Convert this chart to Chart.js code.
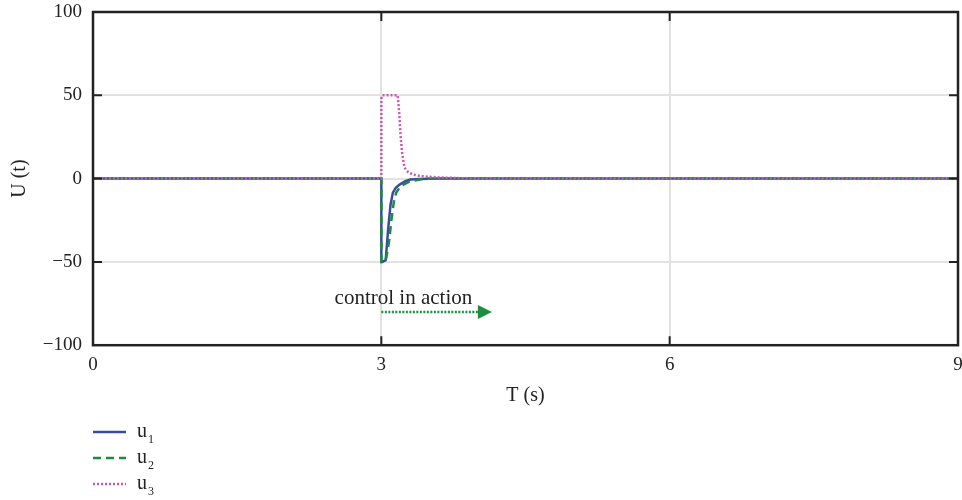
<!DOCTYPE html>
<html>
<head>
<meta charset="utf-8">
<script src="https://cdn.jsdelivr.net/npm/chart.js@4.4.1/dist/chart.umd.min.js"></script>
<style>
  html, body { margin: 0; padding: 0; background: #fff; }
  canvas { display: block; }
</style>
</head>
<body>
<canvas id="uChart" width="962" height="500"></canvas>
<script>
// datos
const u1T = [0, 3.0, 3.0, 3.01, 3.045, 3.07, 3.095, 3.12, 3.15, 3.19, 3.25, 3.30, 3.40, 3.60, 9];
const u1V = [0, 0, -50, -50, -49, -31, -16, -8.4, -5.5, -3.6, -1.6, -0.6, -0.2, 0, 0];

const u2T = [0, 3.0, 3.0, 3.025, 3.05, 3.08, 3.105, 3.13, 3.155, 3.20, 3.30, 3.43, 3.60, 9];
const u2V = [0, 0, -50, -50, -48, -38, -24.7, -14, -8.4, -4.5, -1.6, -0.2, 0, 0];

const u3T = [0, 3.0, 3.0, 3.01, 3.17, 3.185, 3.20, 3.215, 3.24, 3.28, 3.33, 3.40, 3.47, 3.60, 3.80, 4.0, 9];
const u3V = [0, 0, 48, 50, 50, 40, 26, 16, 6.6, 3.8, 2.4, 1.6, 1.2, 0.7, 0.3, 0, 0];

const xTicks = [0, 3, 6, 9];
const yTicks = [-100, -50, 0, 50, 100];
const seriesSubs = ['1', '2', '3'];

// anotacion "control in action"
const noteText = 'control in action';
const noteX = 3.23, noteY = -72;
const arrowFrom = 3.0, arrowTo = 4.15, arrowY = -80;

const serif = '"Liberation Serif", "DejaVu Serif", serif';

function toPoints(ts, vs) {
  return ts.map((t, i) => ({ x: t, y: vs[i] }));
}

const framePlugin = {
  id: 'framePlugin',
  afterDraw(chart) {
    const { ctx, chartArea: a, scales: { x, y } } = chart;
    ctx.save();

    // marcas hacia dentro
    ctx.strokeStyle = '#222';
    ctx.lineWidth = 2;
    ctx.setLineDash([]);
    ctx.beginPath();
    yTicks.slice(1, -1).forEach(v => {
      const py = y.getPixelForValue(v);
      ctx.moveTo(a.left, py); ctx.lineTo(a.left + 9, py);
      ctx.moveTo(a.right, py); ctx.lineTo(a.right - 9, py);
    });
    xTicks.slice(1, -1).forEach(v => {
      const px = x.getPixelForValue(v);
      ctx.moveTo(px, a.bottom); ctx.lineTo(px, a.bottom - 9);
      ctx.moveTo(px, a.top); ctx.lineTo(px, a.top + 9);
    });
    ctx.stroke();

    // marco
    ctx.lineWidth = 2.5;
    ctx.strokeRect(a.left, a.top, a.right - a.left, a.bottom - a.top);

    // flecha
    const ay = y.getPixelForValue(arrowY);
    const ax0 = x.getPixelForValue(arrowFrom);
    const ax1 = x.getPixelForValue(arrowTo);
    ctx.strokeStyle = '#1b8f3e';
    ctx.fillStyle = '#1b8f3e';
    ctx.lineWidth = 2.5;
    ctx.setLineDash([2, 1.5]);
    ctx.beginPath();
    ctx.moveTo(ax0, ay); ctx.lineTo(ax1 - 12, ay);
    ctx.stroke();
    ctx.setLineDash([]);
    ctx.beginPath();
    ctx.moveTo(ax1, ay);
    ctx.lineTo(ax1 - 14, ay - 7);
    ctx.lineTo(ax1 - 14, ay + 7);
    ctx.closePath();
    ctx.fill();

    ctx.fillStyle = '#222';
    ctx.font = '21px ' + serif;
    ctx.textAlign = 'center';
    ctx.textBaseline = 'middle';
    ctx.fillText(noteText, x.getPixelForValue(noteX), y.getPixelForValue(noteY));

    // leyenda
    chart.data.datasets.forEach((ds, i) => {
      const ly = 432 + i * 26;
      ctx.strokeStyle = ds.borderColor;
      ctx.lineWidth = 2.5;
      ctx.setLineDash(ds.borderDash || []);
      ctx.beginPath();
      ctx.moveTo(93, ly); ctx.lineTo(126, ly);
      ctx.stroke();
      ctx.setLineDash([]);
      ctx.fillStyle = '#222';
      ctx.textAlign = 'left';
      ctx.textBaseline = 'alphabetic';
      ctx.font = '20px ' + serif;
      ctx.fillText('u', 137, ly + 5);
      ctx.font = '12px ' + serif;
      ctx.fillText(seriesSubs[i], 148, ly + 11);
    });

    ctx.restore();
  }
};

const ctx = document.getElementById('uChart').getContext('2d');
const uChart = new Chart(ctx, {
  type: 'line',
  data: {
    datasets: [
      {
        label: 'u1',
        data: toPoints(u1T, u1V),
        borderColor: '#3a4c9e',
        borderWidth: 2.5,
        order: 2
      },
      {
        label: 'u2',
        data: toPoints(u2T, u2V),
        borderColor: '#1f8a3c',
        borderWidth: 2.5,
        borderDash: [8, 5],
        order: 1
      },
      {
        label: 'u3',
        data: toPoints(u3T, u3V),
        borderColor: '#c459b6',
        borderWidth: 2.5,
        borderDash: [2, 2],
        order: 0
      }
    ]
  },
  options: {
    responsive: false,
    animation: false,
    devicePixelRatio: 1,
    parsing: false,
    elements: { point: { radius: 0 }, line: { tension: 0 } },
    layout: { padding: { left: 0, right: 4, top: 12, bottom: 92 } },
    plugins: { legend: { display: false }, tooltip: { enabled: false } },
    scales: {
      x: {
        type: 'linear',
        min: 0, max: 9,
        afterBuildTicks: s => { s.ticks = xTicks.map(v => ({ value: v })); },
        afterFit: s => { s.paddingRight = 0; s.paddingLeft = 0; },
        grid: { color: '#e2e2e2', lineWidth: 2, drawTicks: false },
        border: { display: false },
        ticks: { color: '#222', padding: 8, font: { family: serif, size: 19 } },
        title: { display: true, text: 'T (s)', color: '#222', padding: { top: 0, bottom: 0 }, font: { family: serif, size: 20 } }
      },
      y: {
        type: 'linear',
        min: -100, max: 100,
        afterBuildTicks: s => { s.ticks = yTicks.map(v => ({ value: v })); },
        afterFit: s => { s.width = 93; s.paddingTop = 0; s.paddingBottom = 0; },
        grid: { color: '#e2e2e2', lineWidth: 2, drawTicks: false },
        border: { display: false },
        ticks: {
          color: '#222', padding: 11, font: { family: serif, size: 19 },
          callback: v => String(v).replace('-', '\u2212')
        },
        title: { display: true, text: 'U (t)', color: '#222', padding: { top: 8, bottom: 0 }, font: { family: serif, size: 20 } }
      }
    }
  },
  plugins: [framePlugin]
});
</script>
</body>
</html>
